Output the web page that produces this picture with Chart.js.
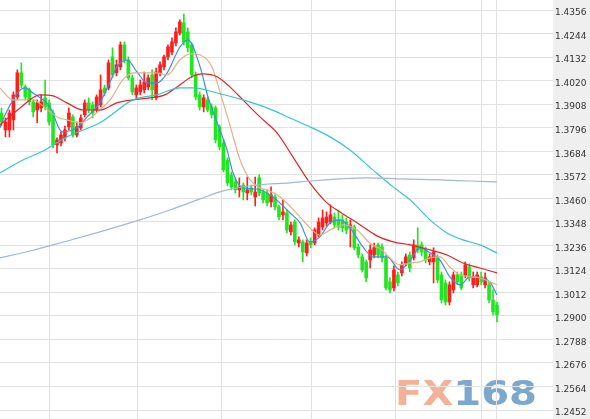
<!DOCTYPE html>
<html>
<head>
<meta charset="utf-8">
<script src="https://cdn.jsdelivr.net/npm/chart.js@4.4.1/dist/chart.umd.min.js"></script>
<style>
  html, body { margin: 0; padding: 0; background: #fff; }
  #wrap { width: 590px; height: 419px; }
</style>
</head>
<body>
<div id="wrap"><canvas id="graficoVelas" width="590" height="419"></canvas></div>
<script>
// velas diarias, indice 0..125
const openP = [
  1.3866,1.3785,1.3785,1.3833,1.3942,1.4057,1.3990,1.3976,1.3919,1.3880,
  1.3890,1.3938,1.3914,1.3866,1.3714,1.3723,1.3747,1.3800,1.3847,1.3761,
  1.3795,1.3857,1.3914,1.3904,1.3880,1.3904,1.3985,1.3985,1.4133,1.4057,
  1.4085,1.4190,1.4118,1.4033,1.3952,1.3966,1.3976,1.3990,1.4047,1.3938,
  1.4057,1.4085,1.4133,1.4156,1.4199,1.4247,1.4295,1.4252,1.4190,1.4047,
  1.3952,1.3895,1.3928,1.3895,1.3890,1.3800,1.3723,1.3642,1.3571,1.3538,
  1.3500,1.3523,1.3485,1.3509,1.3466,1.3557,1.3490,1.3485,1.3442,1.3466,
  1.3419,1.3381,1.3390,1.3300,1.3347,1.3247,1.3252,1.3200,1.3252,1.3247,
  1.3285,1.3323,1.3343,1.3347,1.3371,1.3357,1.3357,1.3347,1.3319,1.3323,
  1.3228,1.3181,1.3157,1.3166,1.3190,1.3238,1.3228,1.3176,1.3062,1.3033,
  1.3095,1.3105,1.3152,1.3190,1.3176,1.3238,1.3238,1.3214,1.3157,1.3157,
  1.3176,1.3095,1.3057,1.2966,1.3024,1.3095,1.3095,1.3095,1.3133,1.3048,
  1.3048,1.3086,1.3048,1.3048,1.2976,1.2952
];
const highP = [
  1.3890,1.3842,1.3880,1.3966,1.4071,1.4104,1.3999,1.3985,1.3928,1.3928,
  1.3952,1.4023,1.3928,1.3880,1.3747,1.3776,1.3804,1.3890,1.3857,1.3823,
  1.3857,1.3928,1.3938,1.3919,1.3952,1.4047,1.3999,1.4118,1.4176,1.4118,
  1.4204,1.4204,1.4133,1.4047,1.3999,1.4023,1.4061,1.4047,1.4071,1.4080,
  1.4109,1.4142,1.4190,1.4223,1.4271,1.4309,1.4337,1.4271,1.4199,1.4061,
  1.3966,1.3952,1.3942,1.3909,1.3900,1.3809,1.3738,1.3652,1.3585,1.3557,
  1.3557,1.3533,1.3561,1.3523,1.3561,1.3571,1.3500,1.3500,1.3514,1.3476,
  1.3428,1.3452,1.3404,1.3347,1.3357,1.3276,1.3262,1.3262,1.3271,1.3319,
  1.3366,1.3404,1.3395,1.3428,1.3390,1.3404,1.3381,1.3366,1.3357,1.3333,
  1.3243,1.3195,1.3166,1.3238,1.3247,1.3247,1.3243,1.3190,1.3081,1.3138,
  1.3109,1.3157,1.3195,1.3204,1.3262,1.3319,1.3252,1.3228,1.3195,1.3224,
  1.3190,1.3109,1.3071,1.3062,1.3109,1.3109,1.3109,1.3157,1.3147,1.3109,
  1.3109,1.3109,1.3105,1.3062,1.3024,1.2966
];
const lowP = [
  1.3804,1.3752,1.3752,1.3785,1.3928,1.3985,1.3928,1.3904,1.3847,1.3819,
  1.3871,1.3880,1.3809,1.3700,1.3676,1.3709,1.3733,1.3785,1.3752,1.3752,
  1.3785,1.3847,1.3866,1.3842,1.3871,1.3895,1.3947,1.3976,1.4033,1.4042,
  1.4071,1.4104,1.4023,1.3952,1.3938,1.3952,1.3961,1.3976,1.3928,1.3928,
  1.4042,1.4071,1.4118,1.4142,1.4185,1.4237,1.4190,1.4156,1.4033,1.3928,
  1.3880,1.3871,1.3871,1.3842,1.3723,1.3690,1.3585,1.3519,1.3500,1.3485,
  1.3466,1.3452,1.3452,1.3476,1.3423,1.3471,1.3438,1.3423,1.3419,1.3404,
  1.3357,1.3357,1.3295,1.3285,1.3238,1.3228,1.3157,1.3185,1.3224,1.3238,
  1.3276,1.3309,1.3328,1.3338,1.3319,1.3309,1.3300,1.3290,1.3228,1.3214,
  1.3176,1.3109,1.3062,1.3128,1.3176,1.3176,1.3157,1.3024,1.3009,1.3019,
  1.3043,1.3090,1.3138,1.3109,1.3166,1.3200,1.3185,1.3152,1.3143,1.3057,
  1.3057,1.2962,1.2952,1.2952,1.3009,1.3048,1.3024,1.3081,1.3066,1.3033,
  1.3038,1.3048,1.3033,1.2962,1.2905,1.2871
];
const closeP = [
  1.3823,1.3823,1.3866,1.3952,1.4057,1.3999,1.3942,1.3919,1.3871,1.3914,
  1.3919,1.3895,1.3823,1.3714,1.3738,1.3761,1.3785,1.3866,1.3761,1.3800,
  1.3842,1.3914,1.3880,1.3866,1.3942,1.3976,1.3961,1.4104,1.4047,1.4095,
  1.4190,1.4118,1.4033,1.3966,1.3985,1.3999,1.4014,1.4033,1.3976,1.4061,
  1.4095,1.4133,1.4180,1.4204,1.4252,1.4299,1.4204,1.4176,1.4047,1.3942,
  1.3895,1.3938,1.3880,1.3857,1.3738,1.3704,1.3595,1.3533,1.3514,1.3500,
  1.3514,1.3490,1.3500,1.3490,1.3490,1.3485,1.3452,1.3438,1.3476,1.3419,
  1.3371,1.3395,1.3309,1.3333,1.3252,1.3262,1.3204,1.3247,1.3238,1.3309,
  1.3347,1.3366,1.3371,1.3381,1.3333,1.3323,1.3319,1.3309,1.3333,1.3224,
  1.3190,1.3119,1.3081,1.3214,1.3224,1.3190,1.3176,1.3033,1.3024,1.3119,
  1.3057,1.3143,1.3181,1.3128,1.3238,1.3214,1.3204,1.3166,1.3181,1.3204,
  1.3071,1.2976,1.2966,1.3048,1.3095,1.3062,1.3033,1.3143,1.3081,1.3086,
  1.3095,1.3062,1.3081,1.2976,1.2919,1.2905
];

// medias moviles (posicion en velas / precio)
const ma5X = [-0.4,0.9,5.9,7.9,12.2,15.3,19.0,21.6,24.8,27.4,29.1,31.7,34.2,36.7,39.2,41.8,45.0,47.0,50.1,52.1,54.4,56.9,58.4,60.9,64.5,68.5,72.8,75.3,77.8,80.3,82.9,85.4,87.9,91.2,93.7,97.3,100.5,103.1,105.6,108.1,110.6,113.1,115.7,118.2,120.7,123.2,125];
const ma5Y = [1.3795,1.3857,1.3985,1.3961,1.3895,1.3776,1.3795,1.3847,1.3914,1.4014,1.4085,1.4118,1.4061,1.4009,1.4009,1.4057,1.4180,1.4214,1.4085,1.3942,1.3819,1.3690,1.3581,1.3509,1.3504,1.3466,1.3390,1.3343,1.3252,1.3276,1.3343,1.3357,1.3319,1.3228,1.3181,1.3181,1.3119,1.3166,1.3224,1.3200,1.3166,1.3086,1.3048,1.3086,1.3081,1.3062,1.3000];

const ma10X = [-0.4,2.9,7.9,11.0,14.0,16.5,19.8,24.8,27.4,30.6,33.2,39.2,41.8,45.0,47.6,50.1,53.1,55.1,57.6,60.2,62.7,65.2,67.0,70.3,75.3,77.8,80.3,82.9,86.2,89.7,92.9,96.0,98.0,100.5,103.1,105.6,108.1,110.6,113.1,115.7,118.2,120.7,123.2,125];
const ma10Y = [1.3985,1.3928,1.3928,1.3890,1.3847,1.3833,1.3819,1.3880,1.3928,1.4023,1.4057,1.4057,1.4047,1.4118,1.4147,1.4142,1.4085,1.3966,1.3809,1.3642,1.3547,1.3509,1.3500,1.3466,1.3371,1.3319,1.3285,1.3309,1.3333,1.3309,1.3247,1.3214,1.3176,1.3143,1.3152,1.3157,1.3176,1.3181,1.3133,1.3095,1.3086,1.3081,1.3062,1.3048];

const ma20X = [-0.4,4.7,9.7,13.0,16.5,20.6,24.8,29.1,33.2,37.5,41.2,44.3,48.3,50.8,54.4,57.6,60.9,65.2,69.5,73.5,77.8,82.1,85.4,89.7,94.7,98.8,103.1,108.1,112.4,116.4,120.7,125];
const ma20Y = [1.3809,1.3890,1.3952,1.3947,1.3914,1.3880,1.3880,1.3914,1.3928,1.3938,1.3952,1.3990,1.4042,1.4052,1.4038,1.3990,1.3928,1.3847,1.3771,1.3657,1.3533,1.3438,1.3395,1.3343,1.3281,1.3252,1.3238,1.3214,1.3190,1.3152,1.3128,1.3105];

const ma60X = [-0.4,5.4,11.0,16.5,24.8,33.2,39.2,45.0,48.3,54.4,60.9,67.0,72.8,77.8,82.9,87.9,93.7,98.8,103.1,108.1,112.4,116.4,120.7,125];
const ma60Y = [1.3580,1.3642,1.3690,1.3752,1.3819,1.3928,1.3952,1.3985,1.3985,1.3961,1.3928,1.3890,1.3842,1.3800,1.3752,1.3690,1.3595,1.3514,1.3452,1.3357,1.3295,1.3262,1.3238,1.3200];

const ma120X = [-0.4,7.2,14.8,24.8,34.9,42.5,50.1,55.9,64.5,72.8,77.8,85.4,92.2,100.5,110.6,118.2,125];
const ma120Y = [1.3176,1.3209,1.3247,1.3300,1.3357,1.3404,1.3457,1.3495,1.3523,1.3533,1.3542,1.3552,1.3557,1.3552,1.3547,1.3542,1.3538];

// etiquetas del eje de precios y lineas de cambio de mes
const yTicks = [1.4356,1.4244,1.4132,1.4020,1.3908,1.3796,1.3684,1.3572,1.3460,1.3348,1.3236,1.3124,1.3012,1.2900,1.2788,1.2676,1.2564,1.2452];
const monthLines = [12.2,34.4,55.4,78.3,99.3,121.2,125];

const ROJO = '#ff1e1e';
const VERDE = '#22e622';

const colorVela = closeP.map((c, i) => c >= openP[i] ? ROJO : VERDE);
const mechas = lowP.map((l, i) => ({ x: i, y: [l, highP[i]] }));
const cuerpos = openP.map((o, i) => ({ x: i, y: [o, closeP[i]] }));

function linea(xs, ys) {
  return xs.map((x, k) => ({ x: x, y: ys[k] }));
}

function media(xs, ys, color) {
  return {
    type: 'line',
    data: linea(xs, ys),
    borderColor: color,
    borderWidth: 1.2,
    pointRadius: 0,
    fill: false,
    cubicInterpolationMode: 'monotone',
    order: 1
  };
}

// fondo gris del eje y marca de agua
const fondo = {
  id: 'fondo',
  beforeDraw(chart) {
    const c = chart.ctx;
    const a = chart.chartArea;
    c.save();
    c.fillStyle = '#ffffff';
    c.fillRect(0, 0, chart.width, chart.height);
    c.fillStyle = '#efefef';
    c.fillRect(a.right, 0, chart.width - a.right, chart.height);

    c.font = 'bold 34px "DejaVu Sans"';
    c.textBaseline = 'alphabetic';
    const w1 = c.measureText('FX').width;
    const w2 = c.measureText('168').width;
    const sx = 142 / (w1 + w2);
    c.translate(395, 405);
    c.scale(sx, 1);
    c.fillStyle = '#f4b198';
    c.fillText('FX', 0, 0);
    c.fillStyle = '#7ca8ce';
    c.fillText('168', w1, 0);
    c.restore();
  }
};

const ctx = document.getElementById('graficoVelas').getContext('2d');
const graficoVelas = new Chart(ctx, {
  type: 'bar',
  data: {
    datasets: [
      { type: 'bar', data: mechas, backgroundColor: colorVela, barThickness: 1, grouped: false, order: 3 },
      { type: 'bar', data: cuerpos, backgroundColor: colorVela, barThickness: 3, grouped: false, minBarLength: 1, order: 2 },
      media(ma120X, ma120Y, '#9fb9d6'),
      media(ma60X, ma60Y, '#37c6cc'),
      media(ma20X, ma20Y, '#e0262b'),
      media(ma10X, ma10Y, '#e3b089'),
      media(ma5X, ma5Y, '#3d8fe0')
    ]
  },
  options: {
    responsive: false,
    animation: false,
    devicePixelRatio: 1,
    events: [],
    layout: { padding: 0 },
    plugins: {
      legend: { display: false },
      tooltip: { enabled: false }
    },
    scales: {
      x: {
        type: 'linear',
        min: -0.38,
        max: 139.13,
        offset: false,
        afterBuildTicks: (s) => { s.ticks = monthLines.map(v => ({ value: v })); },
        afterFit: (s) => { s.height = 0; s.paddingLeft = 0; s.paddingRight = 0; },
        ticks: { display: false },
        grid: { color: '#e2e2e2', drawTicks: false, offset: false },
        border: { display: false }
      },
      y: {
        position: 'right',
        min: 1.24092,
        max: 1.44036,
        afterBuildTicks: (s) => { s.ticks = yTicks.map(v => ({ value: v })); },
        afterFit: (s) => { s.width = 37; s.paddingTop = 0; s.paddingBottom = 0; },
        ticks: {
          color: '#333333',
          font: { family: 'DejaVu Sans', size: 9 },
          padding: 2,
          labelOffset: 3,
          callback: (v) => Number(v).toFixed(4)
        },
        grid: { color: '#e2e2e2', drawTicks: false },
        border: { display: false }
      }
    }
  },
  plugins: [fondo]
});
</script>
</body>
</html>
